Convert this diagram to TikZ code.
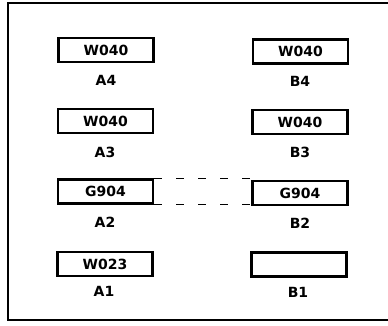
\documentclass[tikz,border=0pt]{standalone}
\usepackage{fontspec}
\setmainfont{DejaVu Sans}
\begin{document}
\begin{tikzpicture}[x=1pt,y=-1pt,
  slot/.style={draw,line width=2.2pt,minimum width=95pt,minimum height=24pt,inner sep=0pt,font=\bfseries\fontsize{14}{15}\selectfont},
  lbl/.style={inner sep=0pt,font=\bfseries\fontsize{14}{15}\selectfont},
  link/.style={line width=1.6pt,dash pattern=on 8pt off 14pt}]
\useasboundingbox (0,0) rectangle (388,325);
\draw[line width=2pt] (388,3) -- (8,3) -- (8,319.5) -- (388,319.5);
\node[slot] (a4) at (106,50) {W040};
\node[slot] (b4) at (300.5,51.5) {W040};
\node[slot] (a3) at (105.5,121) {W040};
\node[slot] (b3) at (300,122) {W040};
\node[slot] (a2) at (105.5,191.5) {G904};
\node[slot] (b2) at (300,193) {G904};
\node[slot] (a1) at (105,264) {W023};
\node[slot] (b1) at (299,264.5) {};
\node[lbl] (la4) at (106,80) {A4};
\node[lbl] (lb4) at (300,81) {B4};
\node[lbl] (la3) at (105,152) {A3};
\node[lbl] (lb3) at (300,152.5) {B3};
\node[lbl] (la2) at (105,222) {A2};
\node[lbl] (lb2) at (300,223) {B2};
\node[lbl] (la1) at (104,291) {A1};
\node[lbl] (lb1) at (298,292) {B1};
\draw[link] (a2.north east) -- (b2.north west |- a2.north east);
\draw[link] (a2.south east) -- (b2.south west |- a2.south east);
\end{tikzpicture}
\end{document}
